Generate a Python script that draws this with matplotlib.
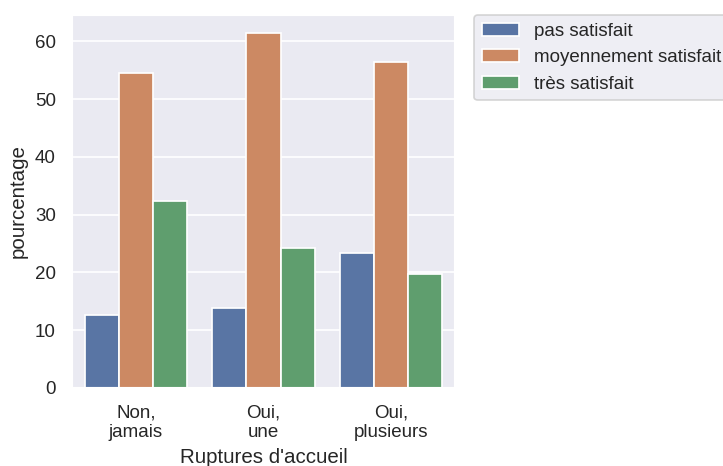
import pandas as pd
import matplotlib
matplotlib.use("Agg")
import matplotlib.pyplot as plt
import seaborn as sns

# Data
ruptures = ["Non,\njamais", "Oui,\nune", "Oui,\nplusieurs"]
niveaux = ["pas satisfait", "moyennement satisfait", "très satisfait"]
pas_satisfait = [12.6, 13.8, 23.4]
moyennement_satisfait = [54.6, 61.5, 56.4]
tres_satisfait = [32.3, 24.2, 19.8]

rows = []
for i, r in enumerate(ruptures):
    rows.append((r, niveaux[0], pas_satisfait[i]))
    rows.append((r, niveaux[1], moyennement_satisfait[i]))
    rows.append((r, niveaux[2], tres_satisfait[i]))
df = pd.DataFrame(rows, columns=["Ruptures d'accueil", "satisfaction", "pourcentage"])

sns.set_theme()
plt.rcParams['font.family'] = ['Liberation Sans', 'DejaVu Sans']

dpi = 123
fig = plt.figure(figsize=(723 / dpi, 466 / dpi), dpi=dpi)
ax = fig.add_axes([72 / 723, 78 / 466, 383 / 723, 373 / 466])
sns.barplot(data=df, x="Ruptures d'accueil", y="pourcentage", hue="satisfaction",
            hue_order=niveaux, ax=ax, saturation=0.75)
ax.legend(bbox_to_anchor=(1.05, 1), loc=2, borderaxespad=0.)

fig.savefig("out.png", dpi=dpi)
